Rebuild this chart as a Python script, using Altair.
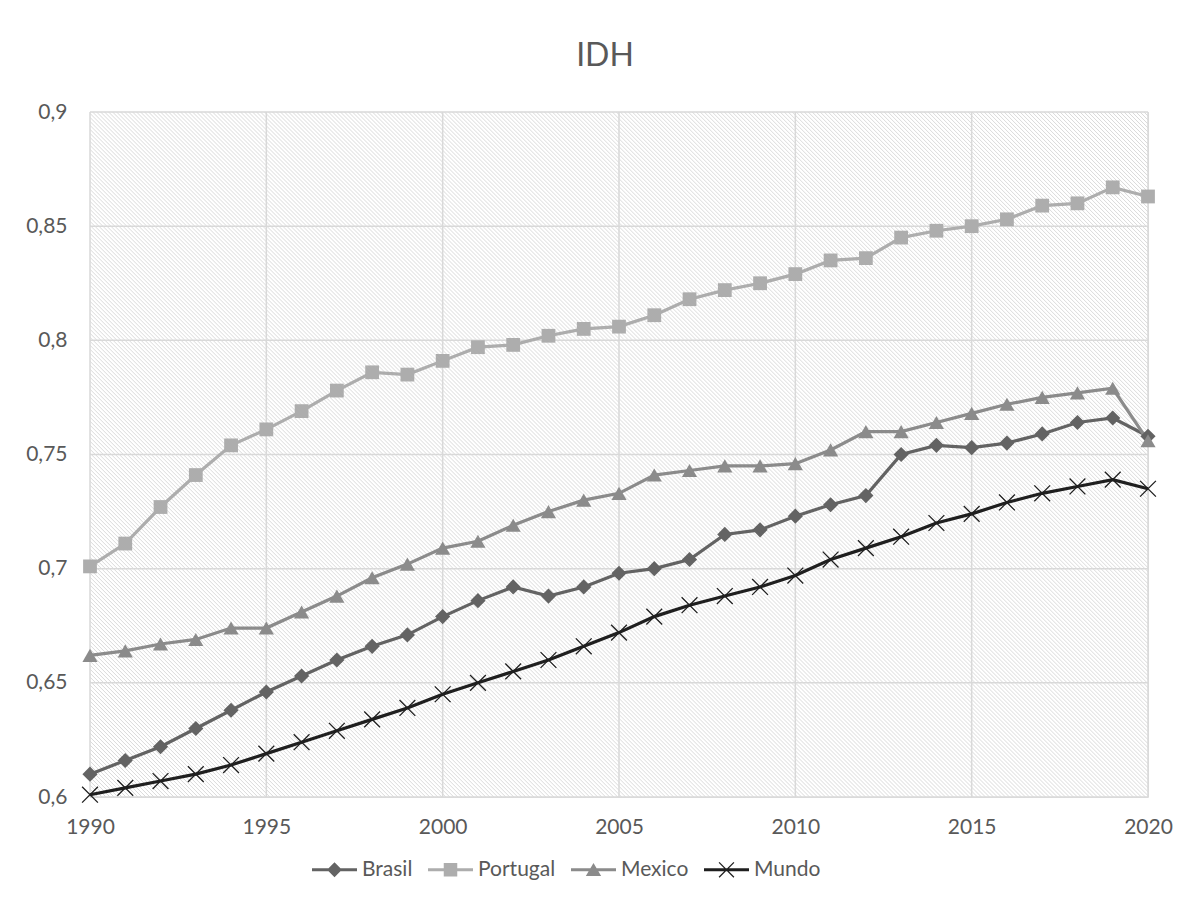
import altair as alt
import pandas as pd

years = [1990, 1991, 1992, 1993, 1994, 1995, 1996, 1997, 1998, 1999, 2000,
         2001, 2002, 2003, 2004, 2005, 2006, 2007, 2008, 2009, 2010,
         2011, 2012, 2013, 2014, 2015, 2016, 2017, 2018, 2019, 2020]
brasil = [0.610, 0.616, 0.622, 0.630, 0.638, 0.646, 0.653, 0.660, 0.666, 0.671, 0.679,
          0.686, 0.692, 0.688, 0.692, 0.698, 0.700, 0.704, 0.715, 0.717, 0.723,
          0.728, 0.732, 0.750, 0.754, 0.753, 0.755, 0.759, 0.764, 0.766, 0.758]
portugal = [0.701, 0.711, 0.727, 0.741, 0.754, 0.761, 0.769, 0.778, 0.786, 0.785, 0.791,
            0.797, 0.798, 0.802, 0.805, 0.806, 0.811, 0.818, 0.822, 0.825, 0.829,
            0.835, 0.836, 0.845, 0.848, 0.850, 0.853, 0.859, 0.860, 0.867, 0.863]
mexico = [0.662, 0.664, 0.667, 0.669, 0.674, 0.674, 0.681, 0.688, 0.696, 0.702, 0.709,
          0.712, 0.719, 0.725, 0.730, 0.733, 0.741, 0.743, 0.745, 0.745, 0.746,
          0.752, 0.760, 0.760, 0.764, 0.768, 0.772, 0.775, 0.777, 0.779, 0.756]
mundo = [0.601, 0.604, 0.607, 0.610, 0.614, 0.619, 0.624, 0.629, 0.634, 0.639, 0.645,
         0.650, 0.655, 0.660, 0.666, 0.672, 0.679, 0.684, 0.688, 0.692, 0.697,
         0.704, 0.709, 0.714, 0.720, 0.724, 0.729, 0.733, 0.736, 0.739, 0.735]

series_names = ["Brasil", "Portugal", "Mexico", "Mundo"]
series_values = [brasil, portugal, mexico, mundo]
colors = ["#636363", "#adadad", "#8b8b8b", "#1f1f1f"]
x_ticks = [1990, 1995, 2000, 2005, 2010, 2015, 2020]
y_ticks = [0.6, 0.65, 0.7, 0.75, 0.8, 0.85, 0.9]

rows = []
for name, vals in zip(series_names, series_values):
    for yr, v in zip(years, vals):
        rows.append({"year": yr, "value": v, "series": name})
df = pd.DataFrame(rows)

W, H = 1058, 685
FONT = "Lato"
TXT = "#595959"
GRID = "#d9d9d9"

x_scale = alt.Scale(domain=[1990, 2020], nice=False, zero=False)
y_scale = alt.Scale(domain=[0.6, 0.9], nice=False, zero=False)

# diagonal hatch background via a striped linear gradient
t = (W + H) / (W * W + H * H)
gx2 = t * W
gy2 = 1 - t * H
N = round((W + H) / 4)
stops = []
for k in range(N):
    stops.append(alt.GradientStop(offset=k / N, color="#dadada"))
    stops.append(alt.GradientStop(offset=(k + 0.25) / N, color="#ffffff"))
    stops.append(alt.GradientStop(offset=(k + 0.75) / N, color="#ffffff"))
stops.append(alt.GradientStop(offset=1.0, color="#dadada"))
hatch = alt.LinearGradient(gradient="linear", stops=stops, x1=0, y1=1, x2=gx2, y2=gy2)

x_axis = alt.Axis(values=x_ticks, format="d", grid=False, domain=False, ticks=False,
                  labelFontSize=21, labelColor=TXT, labelFont=FONT, labelPadding=19,
                  labelFlush=False, labelBound=False, labelOverlap=False,
                  title=None)
y_axis = alt.Axis(values=y_ticks, grid=False, domain=False, ticks=False,
                  labelFontSize=21, labelColor=TXT, labelFont=FONT, labelPadding=23,
                  labelFlush=False, labelBound=False, labelOverlap=False,
                  labelExpr="replace(format(datum.value, '.2~f'), '.', ',')",
                  title=None)

bg = alt.Chart(pd.DataFrame({"a": [0]})).mark_rect(fill=hatch, strokeWidth=0).encode(
    x=alt.X(datum=1990, type="quantitative", scale=x_scale, axis=x_axis),
    x2=alt.X2(datum=2020),
    y=alt.Y(datum=0.6, type="quantitative", scale=y_scale, axis=y_axis),
    y2=alt.Y2(datum=0.9),
)

vgrid = alt.Chart(pd.DataFrame({"x": x_ticks})).mark_rule(color=GRID, strokeWidth=1.5).encode(
    x=alt.X("x:Q", scale=x_scale, axis=x_axis)
)
hgrid = alt.Chart(pd.DataFrame({"y": y_ticks})).mark_rule(color=GRID, strokeWidth=1.5).encode(
    y=alt.Y("y:Q", scale=y_scale, axis=y_axis)
)

layers = [bg, vgrid, hgrid]

x_enc = alt.X("year:Q", scale=x_scale, axis=x_axis)
y_enc = alt.Y("value:Q", scale=y_scale, axis=y_axis)

for name, col in zip(series_names, colors):
    layers.append(
        alt.Chart(df).transform_filter(alt.datum.series == name)
        .mark_line(color=col, strokeWidth=3.2)
        .encode(x=x_enc, y=y_enc)
    )

point_marks = {
    "Brasil": dict(shape="diamond", filled=True, size=230, opacity=1),
    "Portugal": dict(shape="square", filled=True, size=190, opacity=1),
    "Mexico": dict(shape="triangle-up", filled=True, size=230, opacity=1),
    "Mundo": dict(shape="M-1,-1L1,1M-1,1L1,-1", filled=False, size=250, strokeWidth=1.3, opacity=1),
}
for name, col in zip(series_names, colors):
    layers.append(
        alt.Chart(df).transform_filter(alt.datum.series == name)
        .mark_point(color=col, **point_marks[name])
        .encode(x=x_enc, y=y_enc)
    )

bar = "M-1,-0.07H1V0.07H-1Z "
legend_paths = [
    bar + "M0,-0.33L0.33,0L0,0.33L-0.33,0Z",
    bar + "M-0.3,-0.3H0.3V0.3H-0.3Z",
    bar + "M0,-0.3L0.34,0.28H-0.34Z",
    bar + "M-0.35,-0.31L-0.31,-0.35L0.35,0.31L0.31,0.35Z M-0.35,0.31L0.31,-0.35L0.35,-0.31L-0.31,0.35Z",
]

leg = alt.Legend(title=None, orient="none", legendX=222, legendY=735, direction="horizontal",
                 symbolSize=2025, symbolStrokeWidth=0, labelFontSize=21, labelColor=TXT,
                 labelFont=FONT, labelOffset=5, columnPadding=15, padding=0)

legend_layer = alt.Chart(df).transform_filter("false").mark_point(filled=True, opacity=1, strokeWidth=0).encode(
    x=x_enc, y=y_enc,
    color=alt.Color("series:N", scale=alt.Scale(domain=series_names, range=colors), legend=leg),
    shape=alt.Shape("series:N", scale=alt.Scale(domain=series_names, range=legend_paths), legend=leg),
)
layers.append(legend_layer)

chart = alt.layer(*layers).properties(
    width=W,
    height=H,
    autosize=alt.AutoSizeParams(type="none"),
    padding={"left": 90, "top": 112, "right": 55, "bottom": 117},
    title=alt.TitleParams("IDH", fontSize=32, color=TXT, font=FONT, fontWeight="normal",
                          anchor="middle", baseline="alphabetic", offset=3, dx=-14),
    background="white",
).configure_view(stroke=None).configure(font=FONT)

chart.save("out.html", embed_options={"renderer": "svg", "actions": False})
